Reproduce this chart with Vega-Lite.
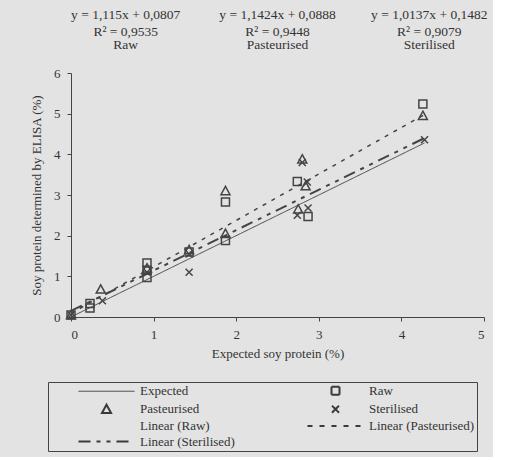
{
  "$schema": "https://vega.github.io/schema/vega-lite/v6.json",
  "background": "#e3e3e3",
  "padding": {"left": 30, "top": 0, "right": 5, "bottom": 5},
  "spacing": 5,
  "config": {
    "view": {"stroke": null},
    "font": "Liberation Serif",
    "axis": {
      "labelFont": "Liberation Serif", "titleFont": "Liberation Serif",
      "labelFontSize": 13, "titleFontSize": 13, "titleFontWeight": "normal",
      "labelColor": "#333", "titleColor": "#333",
      "domainColor": "#444", "tickColor": "#444", "grid": false, "tickSize": 4
    },
    "text": {"font": "Liberation Serif", "fontSize": 13.5, "color": "#333"}
  },
  "datasets": {
    "eqs": [
      {"series": "Raw", "eq": "y = 1,115x + 0,0807", "r2": "R² = 0,9535"},
      {"series": "Pasteurised", "eq": "y = 1,1424x + 0,0888", "r2": "R² = 0,9448"},
      {"series": "Sterilised", "eq": "y = 1,0137x + 0,1482", "r2": "R² = 0,9079"}
    ],
    "lines": [
      {"series": "Expected", "x": 0, "y": 0},
      {"series": "Expected", "x": 4.28, "y": 4.28},
      {"series": "Linear (Pasteurised)", "x": 0, "y": 0.0888},
      {"series": "Linear (Pasteurised)", "x": 4.28, "y": 4.98},
      {"series": "Linear (Sterilised)", "x": 0, "y": 0.1482},
      {"series": "Linear (Sterilised)", "x": 4.28, "y": 4.4}
    ],
    "pts": [
      {"series": "Raw", "x": 0, "y": 0.05},
      {"series": "Raw", "x": 0.23, "y": 0.33},
      {"series": "Raw", "x": 0.23, "y": 0.22},
      {"series": "Raw", "x": 0.92, "y": 1.33},
      {"series": "Raw", "x": 0.92, "y": 1.15},
      {"series": "Raw", "x": 0.92, "y": 0.97},
      {"series": "Raw", "x": 1.43, "y": 1.6},
      {"series": "Raw", "x": 1.87, "y": 2.83},
      {"series": "Raw", "x": 1.87, "y": 1.88},
      {"series": "Raw", "x": 2.74, "y": 3.33},
      {"series": "Raw", "x": 2.87, "y": 2.47},
      {"series": "Raw", "x": 4.26, "y": 5.24},
      {"series": "Pasteurised", "x": 0, "y": 0.05},
      {"series": "Pasteurised", "x": 0.36, "y": 0.68},
      {"series": "Pasteurised", "x": 0.92, "y": 1.2},
      {"series": "Pasteurised", "x": 1.43, "y": 1.65},
      {"series": "Pasteurised", "x": 1.87, "y": 3.1},
      {"series": "Pasteurised", "x": 1.87, "y": 2.05},
      {"series": "Pasteurised", "x": 2.8, "y": 3.88},
      {"series": "Pasteurised", "x": 2.84, "y": 3.22},
      {"series": "Pasteurised", "x": 2.75, "y": 2.65},
      {"series": "Pasteurised", "x": 4.26, "y": 4.95},
      {"series": "Sterilised", "x": 0, "y": 0.05},
      {"series": "Sterilised", "x": 0.38, "y": 0.4},
      {"series": "Sterilised", "x": 0.92, "y": 1.1},
      {"series": "Sterilised", "x": 1.43, "y": 1.1},
      {"series": "Sterilised", "x": 1.43, "y": 1.55},
      {"series": "Sterilised", "x": 2.8, "y": 3.8},
      {"series": "Sterilised", "x": 2.86, "y": 3.32},
      {"series": "Sterilised", "x": 2.74, "y": 2.5},
      {"series": "Sterilised", "x": 2.87, "y": 2.68},
      {"series": "Sterilised", "x": 4.28, "y": 4.36}
    ]
  },
  "vconcat": [
    {
      "width": 413,
      "height": 62,
      "data": {"name": "eqs"},
      "encoding": {
        "x": {"field": "series", "type": "nominal", "axis": null,
              "scale": {"type": "point", "domain": ["Raw", "Pasteurised", "Sterilised"], "padding": 0.36}}
      },
      "layer": [
        {"mark": {"type": "text", "baseline": "middle", "dy": -16}, "encoding": {"text": {"field": "eq"}}},
        {"mark": {"type": "text", "baseline": "middle", "dy": 1}, "encoding": {"text": {"field": "r2"}}},
        {"mark": {"type": "text", "baseline": "middle", "dy": 14}, "encoding": {"text": {"field": "series"}}}
      ]
    },
    {
      "width": 413,
      "height": 244,
      "encoding": {
        "x": {"field": "x", "type": "quantitative",
              "scale": {"domain": [0, 5], "nice": false},
              "axis": {"values": [0, 1, 2, 3, 4, 5], "title": "Expected soy protein (%)", "labelPadding": 7, "titlePadding": 6}},
        "y": {"field": "y", "type": "quantitative",
              "scale": {"domain": [0, 6], "nice": false},
              "axis": {"values": [0, 1, 2, 3, 4, 5, 6], "title": "Soy protein determined by ELISA (%)", "labelPadding": 7, "titlePadding": 10}}
      },
      "layer": [
        {
          "data": {"name": "lines"},
          "mark": {"type": "line", "color": "#444"},
          "encoding": {
            "detail": {"field": "series"},
            "strokeDash": {"field": "series", "type": "nominal", "legend": null,
              "scale": {"domain": ["Expected", "Linear (Pasteurised)", "Linear (Sterilised)"],
                        "range": [[1, 0], [4, 6], [12, 6, 4, 6, 4, 6]]}},
            "strokeWidth": {"field": "series", "type": "ordinal", "legend": null,
              "scale": {"domain": ["Expected", "Linear (Pasteurised)", "Linear (Sterilised)"],
                        "range": [1, 2, 2]}}
          }
        },
        {
          "data": {"name": "pts"},
          "mark": {"type": "point", "filled": false, "size": 100, "strokeWidth": 1.5, "color": "#444", "opacity": 1},
          "encoding": {
            "shape": {"field": "series", "type": "nominal",
              "scale": {
                "domain": ["Expected", "Raw", "Pasteurised", "Sterilised", "Linear (Raw)", "Linear (Pasteurised)", "Linear (Sterilised)"],
                "range": [
                  "M-5.6,0H5.6",
                  "M-0.8,-0.8H0.8V0.8H-0.8Z",
                  "M0,-0.9L0.9,0.75H-0.9Z",
                  "M-0.7,-0.7L0.7,0.7M-0.7,0.7L0.7,-0.7",
                  "M0,0Z",
                  "M-5.6,0H5.6",
                  "M-5.6,0H5.6"
                ]
              },
              "legend": {
                "title": null,
                "orient": "none",
                "direction": "horizontal",
                "legendX": -23,
                "legendY": 382,
                "columns": 2,
                "columnPadding": 44,
                "rowPadding": 1.7,
                "padding": 2,
                "strokeColor": "#444",
                "labelFont": "Liberation Serif",
                "labelFontSize": 13,
                "labelColor": "#333",
                "symbolSize": 100,
                "symbolStrokeWidth": 1.5,
                "symbolOffset": 50,
                "labelOffset": 27,
                "labelLimit": 300,
                "encoding": {
                  "symbols": {
                    "stroke": {"value": "#3a3a3a"},
                    "strokeWidth": {"value": {"expr": "datum.value === 'Expected' ? 1 : 2"}},
                    "strokeDash": {"value": {"expr": "datum.value === 'Linear (Pasteurised)' ? [5, 7] : (datum.value === 'Linear (Sterilised)' ? [12, 6, 4, 6, 4, 6] : [1, 0])"}}
                  }
                }
              }
            }
          }
        }
      ]
    }
  ]
}
